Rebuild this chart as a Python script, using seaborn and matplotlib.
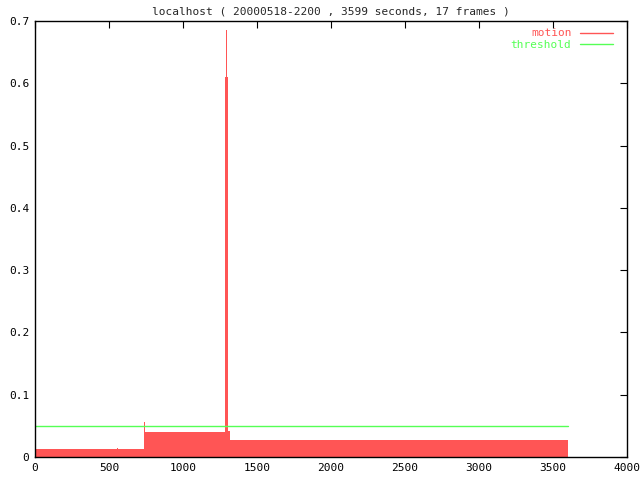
import matplotlib
matplotlib.use("Agg")
import matplotlib.pyplot as plt
import seaborn as sns
import pandas as pd
from matplotlib.lines import Line2D

# motion level (seconds, value), drawn as steps
motion_t = [0, 540, 556, 562, 736, 742, 748, 1180, 1186, 1192, 1287, 1293, 1300,
            1304, 1308, 1313, 1318, 3599]
motion_v = [0.0132, 0.0132, 0.0145, 0.0133, 0.0567, 0.0401, 0.0401, 0.0401, 0.0430,
            0.0404, 0.6100, 0.6860, 0.6100, 0.0420, 0.0550, 0.0420, 0.0276, 0.0]
threshold_t = [0, 3599]
threshold_v = [0.05, 0.05]

title = "localhost ( 20000518-2200 , 3599 seconds, 17 frames )"
red = "#ff5555"
green = "#55ff55"

sns.set_theme(style="white")
plt.rcParams['font.family'] = ['DejaVu Sans Mono', 'DejaVu Sans']

fig = plt.figure(figsize=(6.4, 4.8), dpi=100)
ax = fig.add_axes([35 / 640, 23 / 480, 592 / 640, 436 / 480])

df = pd.DataFrame({"t": motion_t, "v": motion_v})
ax.fill_between(df["t"], df["v"], step="post", color=red, linewidth=0)
sns.lineplot(x=threshold_t, y=threshold_v, ax=ax, color=green, linewidth=1)

ax.set_xlim(0, 4000)
ax.set_ylim(0, 0.7)
ax.set_xticks(range(0, 4001, 500))
ax.set_yticks([0, 0.1, 0.2, 0.3, 0.4, 0.5, 0.6, 0.7])
ax.set_yticklabels(["0", "0.1", "0.2", "0.3", "0.4", "0.5", "0.6", "0.7"])
ax.tick_params(direction="in", length=5, width=0.8, top=True, right=True,
               labelsize=8, colors="black", pad=4)
for s in ax.spines.values():
    s.set_color("black")
    s.set_linewidth(1)
ax.set_xlabel("")
ax.set_ylabel("")
ax.set_title(title, fontsize=8, pad=5)

handles = [Line2D([], [], color=red, linewidth=1), Line2D([], [], color=green, linewidth=1)]
ax.legend(handles, ["motion", "threshold"], loc="upper right", frameon=False,
          markerfirst=False, labelcolor=[red, green], fontsize=8,
          handlelength=2.9, handletextpad=0.8, borderaxespad=0,
          bbox_to_anchor=(1 - 10 / 592, 1 - 3 / 436), labelspacing=0.1)

fig.savefig("out.png", dpi=100)
